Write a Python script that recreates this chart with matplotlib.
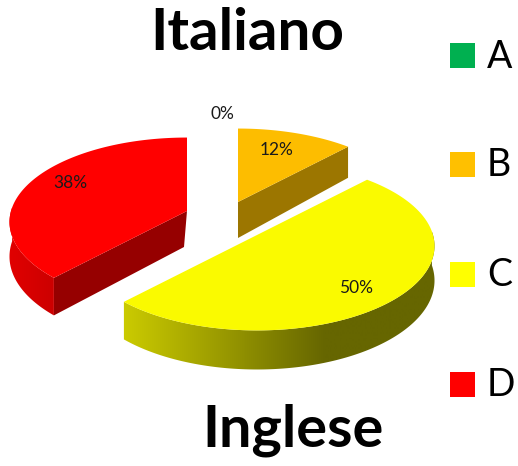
import numpy as np
import matplotlib
matplotlib.use("Agg")
import matplotlib.pyplot as plt
from matplotlib.patches import Polygon, Rectangle
from matplotlib.colors import to_rgb

plt.rcParams["font.family"] = "Lato"

categories = ["A", "B", "C", "D"]
values = [0, 12, 50, 38]
colors = ["#00B050", "#FFC000", "#FFFF00", "#FF0000"]
pct_labels = ["0%", "12%", "50%", "38%"]

# pie look, in pixels
RX, RY, PERSP, DEPTH = 176, 83, 0.13, 34
apex = {"B": (238, 202), "C": (257, 235), "D": (187, 211)}
top_colors = {"B": "#FDBD00", "C": "#FAFA00", "D": "#FF0000"}
label_pos = {"A": (222, 114), "B": (277, 150), "C": (356, 288), "D": (70, 183)}
radial_dark = {"B": "#9C7600", "D": "#960000"}
legend_y = [55.5, 164.5, 274.5, 384]


def rim(theta, cx, cy, drop=0.0):
    f = 1 + PERSP * np.cos(theta)
    x = cx + RX * np.sin(theta) / f
    y = cy - RY * np.cos(theta) / f + drop / f
    return x, y


def wall_colours(base, xs, cat):
    base = np.array(to_rgb(base))
    if cat == "C":
        # light on the left, dark from about x=325 on
        t = np.clip((xs - 122) / (325 - 122), 0, 1)
        shade = 0.80 - 0.40 * t
    else:
        t = np.clip((xs - 10) / 45, 0, 1)
        shade = 0.88 - 0.08 * t
    return shade[None, :, None] * base[None, None, :]


fig = plt.figure(figsize=(5.18, 4.66), dpi=100)
ax = fig.add_axes([0, 0, 1, 1])

edges = np.radians(np.cumsum([0] + values) * 3.6)
slices = {c: (edges[i], edges[i + 1], colors[i]) for i, c in enumerate(categories)}

for cat in ["B", "D", "C"]:
    t0, t1, col = slices[cat]
    cx, cy = apex[cat]
    th = np.linspace(t0, t1, 240)
    xt, yt = rim(th, cx, cy)

    # flat cut face that looks to the viewer
    if cat in radial_dark:
        edge = t1 if cat == "B" else t0
        ex, ey = rim(edge, cx, cy)
        ex2, ey2 = rim(edge, cx, cy, DEPTH)
        face = [(cx, cy), (ex, ey), (ex2, ey2), (cx - (3 if cat == "D" else 0), cy + DEPTH + 2)]
        ax.add_patch(Polygon(face, closed=True, fc=radial_dark[cat], ec="none", zorder=2))

    # outer wall, front part only, shaded by x
    tf = th[np.cos(th) < 0.05]
    if len(tf):
        x1, y1 = rim(tf, cx, cy)
        x2, y2 = rim(tf, cx, cy, DEPTH)
        wall = Polygon(list(zip(x1, y1)) + list(zip(x2[::-1], y2[::-1])), closed=True,
                       fc="none", ec="none", transform=ax.transData)
        ax.add_patch(wall)
        xs = np.arange(int(x1.min()) - 3, int(x1.max()) + 4)
        img = ax.imshow(wall_colours(col, xs, cat), extent=(xs[0], xs[-1], 466, 0),
                        aspect="auto", zorder=2, interpolation="bilinear")
        img.set_clip_path(wall)

    top = [(cx, cy)] + list(zip(xt, yt))
    ax.add_patch(Polygon(top, closed=True, fc=top_colors[cat], ec="none", zorder=3))

for cat, lab in zip(categories, pct_labels):
    x, y = label_pos[cat]
    ax.text(x, y, lab, ha="center", va="center", fontsize=12.5, color="#1a1a1a", zorder=5)

for cat, col, y in zip(categories, colors, legend_y):
    ax.add_patch(Rectangle((450, y - 12.5), 25, 25, fc=col, ec="none"))
    ax.text(487, y + 1, cat, ha="left", va="center", fontsize=27, color="black")

ax.text(247, 34, "Italiano", ha="center", va="center", fontsize=42, fontweight="bold", color="black")
ax.text(293, 430, "Inglese", ha="center", va="center", fontsize=41.5, fontweight="bold", color="black")

ax.set_xlim(0, 518)
ax.set_ylim(466, 0)
ax.axis("off")

fig.savefig("out.png", dpi=100)
